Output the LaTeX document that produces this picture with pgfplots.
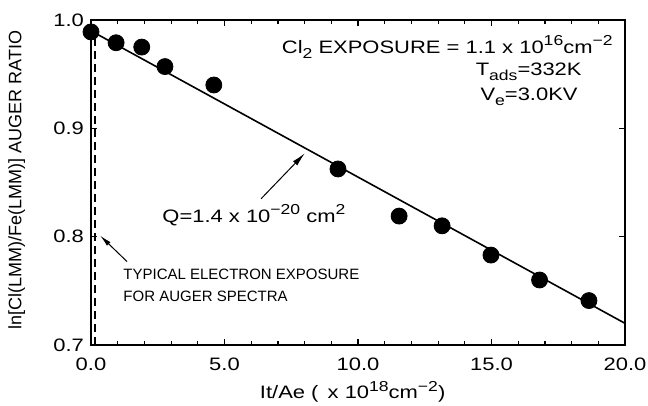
\documentclass[border=0pt]{standalone}
\usepackage{fontspec}
\setmainfont{Liberation Sans}[FakeStretch=1.22]
\newfontfamily\plainsans{Liberation Sans}
\usepackage{graphicx}
\usepackage{pgfplots}
\pgfplotsset{compat=1.18}
\usetikzlibrary{arrows.meta}
\newcommand{\sps}[1]{\raisebox{0.42em}{\scalebox{0.8}{#1}}}
\newcommand{\sbs}[1]{\raisebox{-0.28em}{\scalebox{0.8}{#1}}}
\begin{document}
\begin{tikzpicture}
\begin{axis}[
  scale only axis,
  width=267pt, height=162.5pt,
  xmin=0, xmax=20, ymin=0.7, ymax=1.0,
  xtick={0,5,10,15,20},
  minor x tick num=4,
  ytick={0.7,0.8,0.9,1.0},
  tick align=inside,
  major tick length=3pt, minor tick length=2pt,
  axis line style={line width=1pt},
  every tick/.style={line width=0.6pt, black},
  /pgf/number format/assume math mode=true,
  xticklabel style={/pgf/number format/.cd, fixed, fixed zerofill, precision=1, /tikz/.cd, yshift=-3pt},
  yticklabel style={/pgf/number format/.cd, fixed, fixed zerofill, precision=1},
  tick label style={font=\fontsize{9}{10}\selectfont},
  xlabel={It/Ae (\, x 10\sps{18}cm\sps{−2})},
  ylabel={ln[Cl(LMM)/Fe(LMM)] AUGER RATIO},
  xlabel style={font=\fontsize{9}{10}\selectfont, at={(axis description cs:0.49,-0.166)}, anchor=base},
  ylabel style={font=\plainsans\fontsize{9}{10}\selectfont, at={(axis description cs:-0.139,0.508)}, anchor=center},
  clip=false,
]
\addplot[line width=0.8pt, black] coordinates {(0,0.99) (20,0.72)};
\addplot[dash pattern=on 4pt off 2.5pt, line width=0.7pt, black] coordinates {(0.15,0.7) (0.15,0.988)};
\addplot[only marks, mark=*, mark size=4pt, black] coordinates {
(0,0.989) (0.94,0.979) (1.9,0.975) (2.77,0.957) (4.6,0.940)
(9.25,0.8625) (11.54,0.819) (13.15,0.810) (14.98,0.783) (16.8,0.760) (18.65,0.741)
};
\node[anchor=base east, font=\fontsize{9}{10}\selectfont, inner sep=0pt] at (axis cs:19.55,0.9695)
  {Cl\sbs{2} EXPOSURE = 1.1 x 10\sps{16}cm\sps{−2}};
\node[anchor=base east, font=\fontsize{9}{10}\selectfont, inner sep=0pt] at (axis cs:18.39,0.949)
  {T\sbs{ads}=332K};
\node[anchor=base east, font=\fontsize{9}{10}\selectfont, inner sep=0pt] at (axis cs:18.24,0.926)
  {V\sbs{e}=3.0KV};
\node[anchor=base west, font=\fontsize{9}{10}\selectfont, inner sep=0pt] at (axis cs:2.66,0.8135)
  {Q=1.4 x 10\sps{−20} cm\sps{2}};
\node[anchor=base west, font=\plainsans\fontsize{7.5}{8}\selectfont, inner sep=0pt] at (axis cs:1.2,0.760)
  {TYPICAL ELECTRON EXPOSURE};
\node[anchor=base west, font=\plainsans\fontsize{7.5}{8}\selectfont, inner sep=0pt] at (axis cs:1.2,0.740)
  {FOR AUGER SPECTRA};
\draw[-{Latex[length=7pt,width=3pt]}, line width=0.5pt] (axis cs:6.37,0.835) -- (axis cs:8.01,0.877);
\draw[-{Latex[length=6pt,width=2.5pt]}, line width=0.5pt] (axis cs:1.35,0.777) -- (axis cs:0.34,0.801);
\end{axis}
\pgfresetboundingbox
\path (-45.5pt,-30.5pt) rectangle (278.5pt,172.5pt);
\end{tikzpicture}
\end{document}
